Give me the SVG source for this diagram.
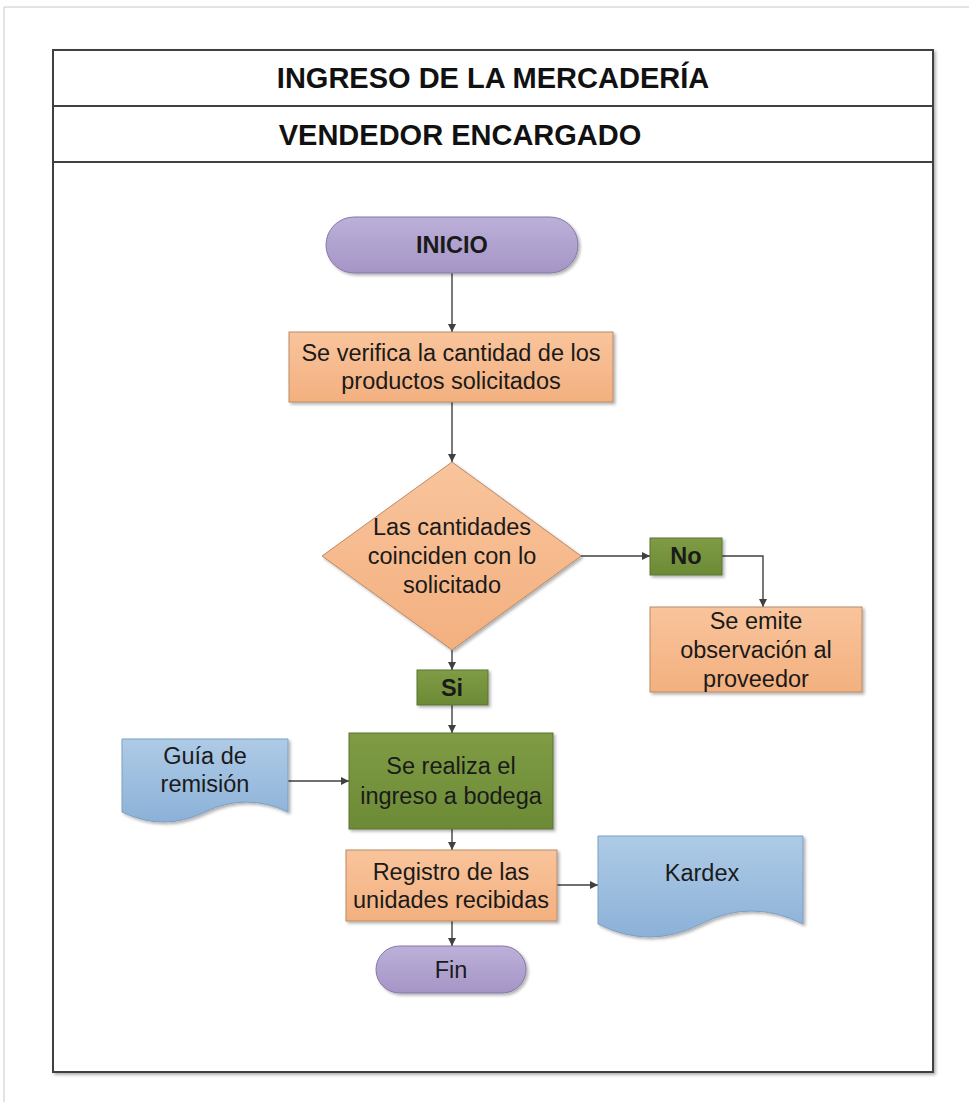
<svg xmlns="http://www.w3.org/2000/svg" width="969" height="1102" viewBox="0 0 969 1102">
<defs>
<linearGradient id="gPurple" x1="0" y1="0" x2="0" y2="1"><stop offset="0" stop-color="#bcb0d9"/><stop offset="1" stop-color="#a595c6"/></linearGradient>
<linearGradient id="gOrange" x1="0" y1="0" x2="0" y2="1"><stop offset="0" stop-color="#f9c49c"/><stop offset="1" stop-color="#f3b07f"/></linearGradient>
<linearGradient id="gGreen" x1="0" y1="0" x2="0" y2="1"><stop offset="0" stop-color="#7f9c45"/><stop offset="1" stop-color="#6c8a36"/></linearGradient>
<linearGradient id="gBlue" x1="0" y1="0" x2="0" y2="1"><stop offset="0" stop-color="#aecbe6"/><stop offset="1" stop-color="#8cb1d8"/></linearGradient>
<filter id="sh" x="-10%" y="-10%" width="130%" height="130%"><feDropShadow dx="2" dy="2" stdDeviation="1.5" flood-color="#000" flood-opacity="0.3"/></filter>
<marker id="arr" viewBox="0 0 10 10" refX="10" refY="5" markerWidth="8" markerHeight="8" markerUnits="userSpaceOnUse" orient="auto"><path d="M0,0 L10,5 L0,10 Z" fill="#404040"/></marker>
</defs>
<style>
.t{font-family:"Liberation Sans",Arial,sans-serif;font-size:23.5px;fill:#1a1a1a;text-anchor:middle}
.b{font-weight:bold}
.h{font-family:"Liberation Sans",Arial,sans-serif;font-size:29px;font-weight:bold;fill:#111;text-anchor:middle}
.c{fill:none;stroke:#404040;stroke-width:1.4;marker-end:url(#arr)}
.term{fill:url(#gPurple);stroke:#8677a8;stroke-width:1}
.org{fill:url(#gOrange);stroke:#b98a66;stroke-width:1}
.grn{fill:url(#gGreen);stroke:#5b7530;stroke-width:1}
.blu{fill:url(#gBlue);stroke:#7e9fc2;stroke-width:1}
</style>
<rect width="969" height="1102" fill="#fff"/>
<path d="M4,1102 V7 H969" fill="none" stroke="#c8c8c8" stroke-width="1"/>
<g id="frame">
<rect x="53" y="50" width="880" height="1022" fill="#fff" stroke="#404040" stroke-width="2" filter="url(#sh)"/>
<line x1="53" y1="106" x2="933" y2="106" stroke="#404040" stroke-width="2"/>
<line x1="53" y1="162" x2="933" y2="162" stroke="#404040" stroke-width="2"/>
<text class="h" x="493" y="88">INGRESO DE LA MERCADERÍA</text>
<text class="h" x="460" y="145">VENDEDOR ENCARGADO</text>
</g>
<g id="connectors">
<path class="c" d="M452,273 V332"/>
<path class="c" d="M452,402 V462"/>
<path class="c" d="M581,556 H650"/>
<path class="c" d="M722,556 H763 V607"/>
<path class="c" d="M452,650 V670"/>
<path class="c" d="M452,705 V733"/>
<path class="c" d="M288,781 H349"/>
<path class="c" d="M452,829 V850"/>
<path class="c" d="M557,885 H598"/>
<path class="c" d="M452,921 V946"/>
</g>
<g id="inicio">
<rect class="term" x="326" y="217" width="252" height="56" rx="28" filter="url(#sh)"/>
<text class="t b" x="452" y="253">INICIO</text>
</g>
<g id="verifica">
<rect class="org" x="289" y="332" width="324" height="70" filter="url(#sh)"/>
<text class="t" x="451" y="361">Se verifica la cantidad de los</text>
<text class="t" x="451" y="389">productos solicitados</text>
</g>
<g id="decision">
<path class="org" d="M452,462 L581,556 L452,650 L322,556 Z" filter="url(#sh)"/>
<text class="t" x="452" y="535">Las cantidades</text>
<text class="t" x="452" y="564">coinciden con lo</text>
<text class="t" x="452" y="593">solicitado</text>
</g>
<g id="no">
<rect class="grn" x="650" y="538" width="72" height="37" filter="url(#sh)"/>
<text class="t b" x="686" y="564">No</text>
</g>
<g id="observacion">
<rect class="org" x="650" y="607" width="212" height="85" filter="url(#sh)"/>
<text class="t" x="756" y="629">Se emite</text>
<text class="t" x="756" y="658">observación al</text>
<text class="t" x="756" y="687">proveedor</text>
</g>
<g id="si">
<rect class="grn" x="417" y="670" width="71" height="35" filter="url(#sh)"/>
<text class="t b" x="452" y="696">Si</text>
</g>
<g id="guia">
<path class="blu" d="M122,739 H288 V812 Q246.5,792 205,812 T122,812 Z" filter="url(#sh)"/>
<text class="t" x="205" y="764">Guía de</text>
<text class="t" x="205" y="792">remisión</text>
</g>
<g id="ingreso">
<rect class="grn" x="349" y="733" width="204" height="96" filter="url(#sh)"/>
<text class="t" x="451" y="774">Se realiza el</text>
<text class="t" x="451" y="804">ingreso a bodega</text>
</g>
<g id="registro">
<rect class="org" x="346" y="850" width="211" height="71" filter="url(#sh)"/>
<text class="t" x="451" y="880">Registro de las</text>
<text class="t" x="451" y="908">unidades recibidas</text>
</g>
<g id="kardex">
<path class="blu" d="M598,836 H803 V924 Q751.5,898 700.5,924 T598,924 Z" filter="url(#sh)"/>
<text class="t" x="702" y="881">Kardex</text>
</g>
<g id="fin">
<rect class="term" x="376" y="946" width="150" height="47" rx="23.5" filter="url(#sh)"/>
<text class="t" x="451" y="978">Fin</text>
</g>
</svg>
